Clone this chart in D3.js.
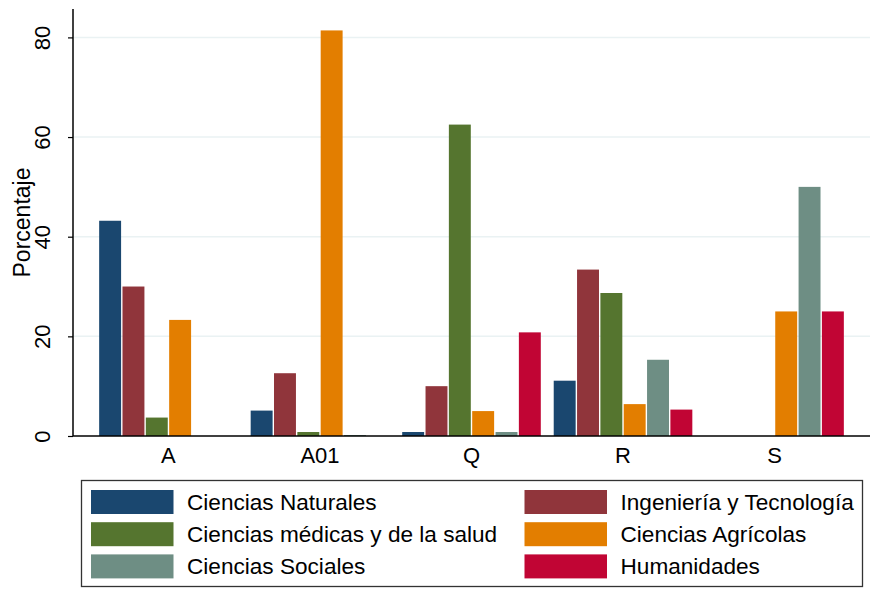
<!DOCTYPE html>
<html>
<head>
<meta charset="utf-8">
<script src="https://cdn.jsdelivr.net/npm/d3@7"></script>
<style>
  body { margin: 0; background: #fff; }
  text { font-family: "Liberation Sans", Arial, sans-serif; fill: #000; }
</style>
</head>
<body>
<div id="chart"></div>
<script>
// categories on the x axis
var groups = ["A", "A01", "Q", "R", "S"];
// series (one per field)
var seriesNames = ["Ciencias Naturales", "Ingeniería y Tecnología", "Ciencias médicas y de la salud",
                   "Ciencias Agrícolas", "Ciencias Sociales", "Humanidades"];
var seriesColors = ["#1a476f", "#90353b", "#55752f", "#e37e00", "#6e8e84", "#c10534"];
// values per series, in group order A, A01, Q, R, S
var naturales   = [43.2, 5.1, 0.8, 11.1, 0];
var ingenieria  = [30.0, 12.6, 10.0, 33.4, 0];
var medicas     = [3.7, 0.8, 62.5, 28.7, 0];
var agricolas   = [23.3, 81.4, 5.0, 6.4, 25.0];
var sociales    = [0, 0.2, 0.8, 15.3, 50.0];
var humanidades = [0, 0, 20.8, 5.3, 25.0];
var yTicks = [0, 20, 40, 60, 80];

var allValues = [naturales, ingenieria, medicas, agricolas, sociales, humanidades];

var width = 872, height = 589;
var plot = {left: 73, right: 870, top: 9, bottom: 436};

var svg = d3.select("#chart").append("svg")
    .attr("width", width)
    .attr("height", height);

var x = d3.scaleBand()
    .domain(groups)
    .range([plot.left, plot.right])
    .paddingInner(0.076)
    .paddingOuter(0.168);

var xInner = d3.scaleBand()
    .domain(d3.range(seriesNames.length))
    .range([0, x.bandwidth()])
    .paddingInner(0.06)
    .paddingOuter(0.03);

var y = d3.scaleLinear()
    .domain([0, 85.7])
    .range([plot.bottom, plot.top]);

// gridlines
svg.append("g")
  .selectAll("line")
  .data(yTicks.slice(1))
  .enter().append("line")
    .attr("x1", plot.left)
    .attr("x2", plot.right)
    .attr("y1", function(d) { return y(d); })
    .attr("y2", function(d) { return y(d); })
    .attr("stroke", "#eaf2f3")
    .attr("stroke-width", 1.5);

// bars
var rows = groups.map(function(g, i) {
  return seriesNames.map(function(s, j) { return {group: g, series: j, value: allValues[j][i]}; });
});

svg.append("g")
  .selectAll("g")
  .data(rows)
  .enter().append("g")
    .attr("transform", function(d, i) { return "translate(" + x(groups[i]) + ",0)"; })
  .selectAll("rect")
  .data(function(d) { return d.filter(function(e) { return e.value > 0; }); })
  .enter().append("rect")
    .attr("x", function(d) { return xInner(d.series); })
    .attr("width", xInner.bandwidth())
    .attr("y", function(d) { return y(d.value); })
    .attr("height", function(d) { return y(0) - y(d.value); })
    .attr("fill", function(d) { return seriesColors[d.series]; });

// y axis
var yAxis = svg.append("g")
    .attr("transform", "translate(" + plot.left + ",0)")
    .call(d3.axisLeft(y).tickValues(yTicks).tickSize(5).tickFormat(d3.format("d")));
yAxis.select(".domain").attr("d", "M0," + plot.top + "V" + plot.bottom).attr("stroke", "#000").attr("stroke-width", 1.5);
yAxis.selectAll(".tick line").attr("stroke", "#000").attr("stroke-width", 1.2);
yAxis.selectAll(".tick text")
    .attr("x", null).attr("dy", null)
    .attr("transform", "translate(-23,0) rotate(-90)")
    .attr("text-anchor", "middle")
    .style("font-size", "22px")
    .style("font-family", "'Liberation Sans', Arial, sans-serif")
    .attr("fill", "#000");

svg.append("text")
    .attr("transform", "translate(30," + ((plot.top + plot.bottom) / 2) + ") rotate(-90)")
    .attr("text-anchor", "middle")
    .style("font-size", "23px")
    .text("Porcentaje");

// x axis
var xAxis = svg.append("g")
    .attr("transform", "translate(0," + plot.bottom + ")")
    .call(d3.axisBottom(x).tickSize(0));
xAxis.select(".domain").attr("d", "M" + plot.left + ",0H" + plot.right).attr("stroke", "#000").attr("stroke-width", 1.5);
xAxis.selectAll(".tick text")
    .attr("y", 27).attr("dy", null)
    .style("font-size", "22px")
    .style("font-family", "'Liberation Sans', Arial, sans-serif")
    .attr("fill", "#000");

// legend
var legend = svg.append("g");
legend.append("rect")
    .attr("x", 81.5).attr("y", 480.5)
    .attr("width", 781).attr("height", 106)
    .attr("fill", "#fff")
    .attr("stroke", "#333")
    .attr("stroke-width", 1.3);

var colX = [91, 524.5];
var item = legend.selectAll("g.item")
  .data(seriesNames)
  .enter().append("g")
    .attr("class", "item")
    .attr("transform", function(d, i) {
      return "translate(" + colX[i % 2] + "," + (490 + Math.floor(i / 2) * 32.2) + ")";
    });
item.append("rect")
    .attr("width", 82.5).attr("height", 24)
    .attr("fill", function(d, i) { return seriesColors[i]; });
item.append("text")
    .attr("x", 96)
    .attr("y", 20)
    .style("font-size", "22.6px")
    .text(function(d) { return d; });
</script>
</body>
</html>
